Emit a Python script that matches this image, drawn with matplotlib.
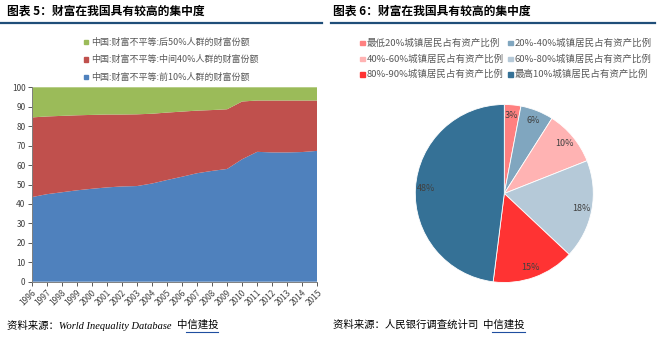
import matplotlib
matplotlib.use("Agg")
import matplotlib.pyplot as plt
from matplotlib.patches import Rectangle
from matplotlib.lines import Line2D
import numpy as np

plt.rcParams['font.family'] = ['Noto Sans CJK SC', 'DejaVu Sans']

# ---- data ----
years = [str(y) for y in range(1996, 2016)]
top10 = [43.5, 45.0, 46.0, 47.0, 47.8, 48.5, 49.0, 49.2, 50.5, 52.3,
         54.0, 55.8, 57.0, 58.0, 63.0, 66.8, 66.5, 66.5, 66.7, 67.3]
mid40_cum = [84.5, 85.0, 85.3, 85.6, 85.8, 86.0, 86.0, 86.1, 86.4, 87.0,
             87.5, 88.0, 88.3, 88.7, 92.7, 93.2, 93.2, 93.2, 93.2, 93.2]
mid40 = [m - t for m, t in zip(mid40_cum, top10)]
bottom50 = [100 - m for m in mid40_cum]
area_labels = ["中国:财富不平等:前10%人群的财富份额",
               "中国:财富不平等:中间40%人群的财富份额",
               "中国:财富不平等:后50%人群的财富份额"]
area_colors = ["#4F81BD", "#C0504D", "#9BBB59"]

pie_labels = ["最低20%城镇居民占有资产比例", "20%-40%城镇居民占有资产比例",
              "40%-60%城镇居民占有资产比例", "60%-80%城镇居民占有资产比例",
              "80%-90%城镇居民占有资产比例", "最高10%城镇居民占有资产比例"]
pie_values = [3, 6, 10, 18, 15, 48]
pie_colors = ["#FF8080", "#80A6BF", "#FFB3B3", "#B5C9D8", "#FF3333", "#357196"]

W, H = 663, 337
fig = plt.figure(figsize=(W / 100, H / 100), dpi=100)

def fx(px):
    return px / W

def fy(py):
    return 1 - py / H

# ---- titles ----
for x0, t in [(7, "图表 5：财富在我国具有较高的集中度"), (333, "图表 6：财富在我国具有较高的集中度")]:
    tt = fig.text(fx(x0), fy(11), t, fontsize=8.5, fontweight='bold',
                  va='center', ha='left', color='black')
fig.add_artist(Line2D([fx(0), fx(322)], [fy(23), fy(23)], color='#1F4E79', lw=1.6))
fig.add_artist(Line2D([fx(331), fx(655)], [fy(23), fy(23)], color='#1F4E79', lw=1.6))

# ---- area chart ----
ax = fig.add_axes([fx(31.7), fy(281.7), fx(317.3) - fx(31.7), fy(87.3) - fy(281.7)])
x = np.arange(len(years))
ax.stackplot(x, top10, mid40, bottom50, colors=area_colors, linewidth=0)
ax.set_xlim(0, len(years) - 1)
ax.set_ylim(0, 100)
ax.set_yticks(range(0, 101, 10))
ax.set_xticks(x)
ax.set_xticklabels(years, rotation=45, ha='right', rotation_mode='anchor')
ax.tick_params(axis='both', labelsize=6, colors='#404040', length=3, width=0.6,
               direction='out', pad=1.5)
for s in ['top', 'right']:
    ax.spines[s].set_visible(False)
for s in ['left', 'bottom']:
    ax.spines[s].set_color('#808080')
    ax.spines[s].set_linewidth(0.7)

rows_y = [42, 59.5, 77]
for i, yy in enumerate(rows_y):
    idx = 2 - i
    fig.add_artist(Rectangle((fx(84), fy(yy + 2.2)), fx(4.4), 4.4 / H,
                             color=area_colors[idx], transform=fig.transFigure))
    fig.text(fx(91), fy(yy), area_labels[idx], fontsize=6.5, color='#595959',
             va='center', ha='left')

# ---- pie chart ----
cx, cy, r = 504.3, 193.5, 89
pax = fig.add_axes([fx(cx - r), fy(cy + r), 2 * r / W, 2 * r / H])
pax.pie(pie_values, colors=pie_colors, startangle=90, counterclock=False,
        autopct='%d%%', pctdistance=0.88,
        textprops=dict(fontsize=6.5, color='#404040'),
        wedgeprops=dict(linewidth=0.6, edgecolor='white'))
pax.set_xlim(-1, 1)
pax.set_ylim(-1, 1)
pax.set_aspect('auto')
pax.axis('off')

leg_rows = [43, 59, 74.5]
col_x = [360, 508]
for i, lab in enumerate(pie_labels):
    row, col = i // 2, i % 2
    yy = leg_rows[row]
    xx = col_x[col]
    fig.add_artist(Rectangle((fx(xx), fy(yy + 2.3)), fx(4.6), 4.6 / H,
                             color=pie_colors[i], transform=fig.transFigure))
    fig.text(fx(xx + 6.5), fy(yy), lab, fontsize=6.8, color='#595959',
             va='center', ha='left')

# ---- sources ----
fam = ['Liberation Serif', 'Noto Sans CJK SC']
renderer = fig.canvas.get_renderer()
for x0, pre in [(7, "资料来源：World Inequality Database  "), (333, "资料来源：人民银行调查统计司  ")]:
    t1 = fig.text(fx(x0), fy(325), pre, fontsize=7.5, style='italic', family=fam,
                  va='center', ha='left', color='black')
    bb = t1.get_window_extent(renderer)
    t2 = fig.text(bb.x1 / W, fy(325), "中信建投", fontsize=7.5, family=fam,
                  va='center', ha='left', color='black')
    bb2 = t2.get_window_extent(renderer)
    fig.add_artist(Line2D([bb2.x0 / W + fx(9), bb2.x1 / W], [fy(331.5), fy(331.5)],
                          color='#1F4EA0', lw=0.8))

fig.savefig("out.png", dpi=100)
